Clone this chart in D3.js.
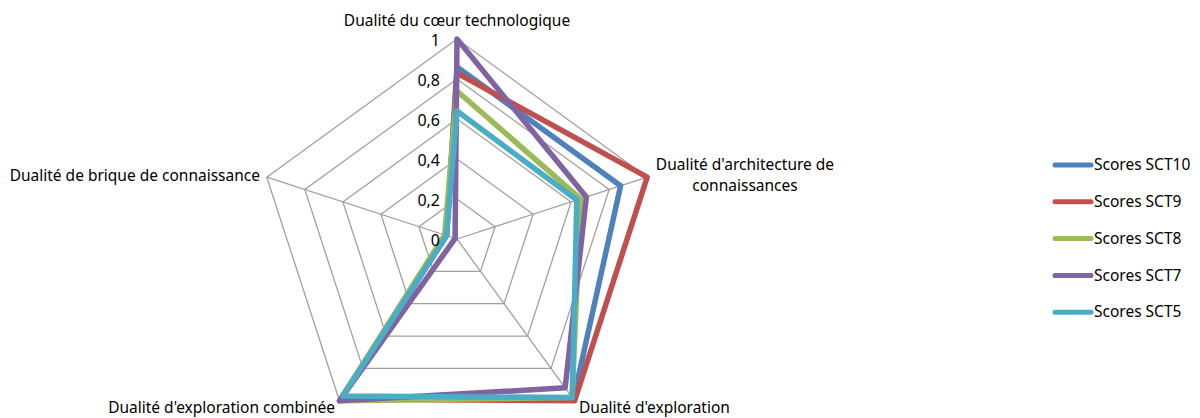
<!DOCTYPE html>
<html><head><meta charset="utf-8">
<script src="https://cdn.jsdelivr.net/npm/d3@7"></script>
<style>
html,body{margin:0;padding:0;background:#fff;}
svg{display:block;font-family:"Noto Sans",sans-serif;}
</style></head>
<body>
<svg id="chart" width="1200" height="418"></svg>
<script>
const axesLabels = [
  ["Dualité du cœur technologique"],
  ["Dualité d'architecture de", "connaissances"],
  ["Dualité d'exploration"],
  ["Dualité d'exploration combinée"],
  ["Dualité de brique de connaissance"]
];
const seriesNames = ["Scores SCT10", "Scores SCT9", "Scores SCT8", "Scores SCT7", "Scores SCT5"];
const seriesColors = ["#4F81BD", "#C0504D", "#9BBB59", "#8064A2", "#4BACC6"];
const sct10 = [0.86, 0.86, 0.99, 0.98, 0.055];
const sct9  = [0.83, 1.00, 1.00, 0.99, 0.055];
const sct8  = [0.74, 0.65, 0.98, 1.00, 0.065];
const sct7  = [1.00, 0.68, 0.92, 1.00, 0.01];
const sct5  = [0.64, 0.63, 0.98, 0.97, 0.055];
const seriesValues = [sct10, sct9, sct8, sct7, sct5];
const tickValues = [0, 0.2, 0.4, 0.6, 0.8, 1];

const svg = d3.select("#chart");
const cx = 457, cy = 239, R = 200;
const r = d3.scaleLinear().domain([0, 1]).range([0, R]);
const n = axesLabels.length;
const angle = d3.scaleLinear().domain([0, n]).range([0, 2 * Math.PI]);
const pt = (i, v) => [cx + r(v) * Math.sin(angle(i)), cy - r(v) * Math.cos(angle(i))];
const fr = d3.formatLocale({decimal: ",", thousands: " ", grouping: [3], currency: ["", "€"]});
const fmt = v => v === 0 || v === 1 ? String(v) : fr.format(".1f")(v);

const grid = svg.append("g");
tickValues.filter(t => t > 0).forEach(t => {
  grid.append("path")
    .attr("d", d3.line()(d3.range(n).map(i => pt(i, t))) + "Z")
    .attr("fill", "none").attr("stroke", "#a0a0a0").attr("stroke-width", 1.3);
});
d3.range(n).forEach(i => {
  const [x, y] = pt(i, 1);
  grid.append("line").attr("x1", cx).attr("y1", cy).attr("x2", x).attr("y2", y)
    .attr("stroke", "#a0a0a0").attr("stroke-width", 1.3);
});

const radial = d3.lineRadial().angle((d, i) => angle(i)).radius(d => r(d)).curve(d3.curveLinearClosed);
const sg = svg.append("g").attr("transform", `translate(${cx},${cy})`);
seriesValues.forEach((vals, k) => {
  sg.append("path").attr("d", radial(vals)).attr("fill", "none")
    .attr("stroke", seriesColors[k]).attr("stroke-width", 5.5)
    .attr("stroke-linejoin", "round");
});

svg.append("g").selectAll("text").data(tickValues).join("text")
  .attr("x", cx - 17).attr("y", d => cy - r(d) + 3)
  .attr("text-anchor", "end").attr("dominant-baseline", "middle")
  .attr("font-size", 16).attr("fill", "#000").text(d => fmt(d));

const labelPos = [
  {x: 457, y: 26, anchor: "middle"},
  {x: 745, y: 170, anchor: "middle"},
  {x: 579, y: 413, anchor: "start"},
  {x: 335, y: 413, anchor: "end"},
  {x: 260, y: 181, anchor: "end"}
];
axesLabels.forEach((lines, i) => {
  const t = svg.append("text").attr("x", labelPos[i].x).attr("y", labelPos[i].y)
    .attr("text-anchor", labelPos[i].anchor).attr("font-size", 15.5).attr("fill", "#000");
  lines.forEach((l, j) => t.append("tspan").attr("x", labelPos[i].x).attr("dy", j === 0 ? 0 : 21).text(l));
});

const lg = svg.append("g");
seriesNames.forEach((name, k) => {
  const y = 165 + k * 36.8;
  lg.append("line").attr("x1", 1055).attr("x2", 1091).attr("y1", y).attr("y2", y)
    .attr("stroke", seriesColors[k]).attr("stroke-width", 5).attr("stroke-linecap", "round");
  lg.append("text").attr("x", 1094).attr("y", y + 1).attr("dominant-baseline", "middle")
    .attr("font-size", 15.5).attr("fill", "#000").text(name);
});
</script>
</body></html>
